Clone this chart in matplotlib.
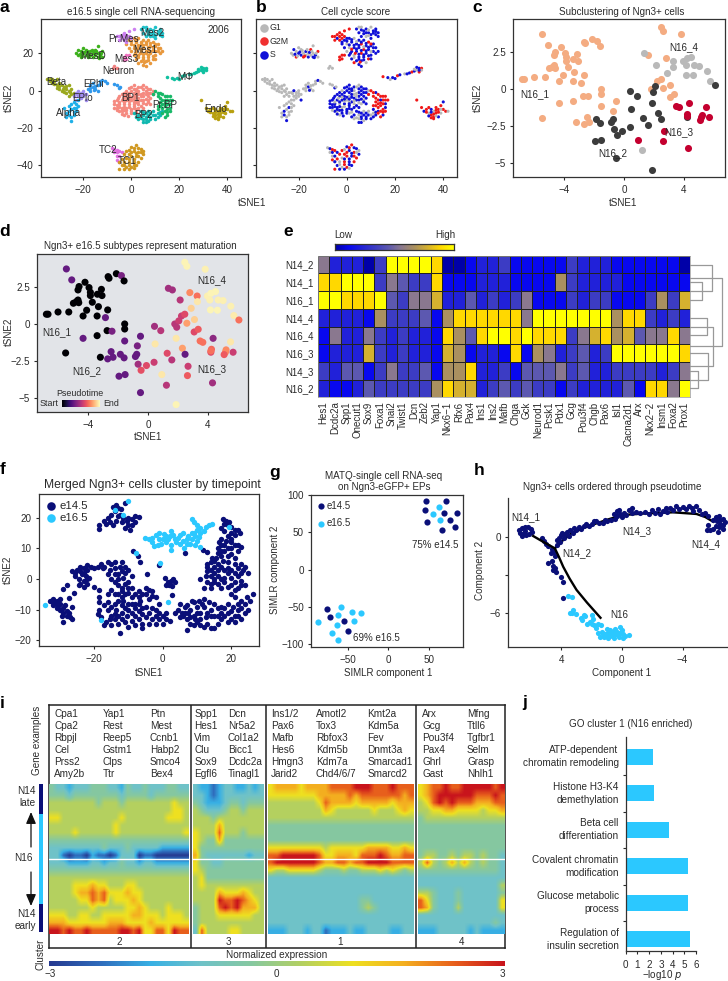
import numpy as np
import matplotlib
matplotlib.use('Agg')
import matplotlib.pyplot as plt
from itertools import cycle
from matplotlib.colors import LinearSegmentedColormap

plt.rcParams['font.family'] = ['Liberation Sans', 'DejaVu Sans']
plt.rcParams['font.size'] = 7.1
plt.rcParams['text.color'] = '#2a2a2a'
plt.rcParams['axes.linewidth'] = 0.9
plt.rcParams['axes.edgecolor'] = '#333333'
plt.rcParams['xtick.color'] = '#2a2a2a'
plt.rcParams['ytick.color'] = '#2a2a2a'
plt.rcParams['xtick.major.size'] = 2
plt.rcParams['ytick.major.size'] = 2
plt.rcParams['xtick.major.pad'] = 4
plt.rcParams['ytick.major.pad'] = 3

W, H = 728, 981

# ---- panel a / b cells, one list per cluster
mes_d = [(-23,20),(-22,22),(-22.3,19),(-21,18),(-21,21),(-20,20),(-20,23),(-19,19),(-19,22),(-18,18),(-18,20),(-17,21),(-17,19),(-16,18),(-16,20),(-15,22),(-15,19),(-14,18),(-14,20),(-13,19),(-12,18),(-12,21),(-14,24),
    (-21.5,19.5),(-20.5,18.5),(-19.5,20.7),(-18.5,21.5),(-17.5,18.5),(-16.5,22),(-15.5,20.5),(-14.5,21),(-13.5,17.7),(-12.7,20)]
mes_1 = [(-1,27),(1,28),(3,28),(5,27),(7,27),(9,26),(11,25),(12,23),(-2,25),(0,25),(2,26),(4,25),(6,25),(8,24),(10,24),(-1,23),(1,23),(3,23),(5,23),(7,22),(9,22),(11,21),(13,21),(0,21),(2,21),(4,21),(6,20),(8,20),(10,19),(1,19),(3,19),(5,18),(7,18),(9,17),(2,17),(4,16),(6,16),(8,15),(5,14),(6,13),(3,15),(10,17),
    (0,26.5),(2,27.3),(4,26.3),(6,26),(8,25.3),(10,25),(1,24.5),(3,24.3),(5,24.2),(7,23.5),(9,23.2),(11,23),(2,22.2),(4,22.3),(6,21.5),(8,21.3),(10,21),(12,20),(1.5,20),(3.5,20),(5,19.5),(7,19.2),(9,18.7),(3,17.8),(5,16.8),(7,16.5),(5.5,15.3)]
mes_2 = [(4,33),(5,31),(6,34),(7,32),(8,33),(9,31),(10,34),(11,32),(12,30),(13,29),(8,29),(10,28),(6,29),(12,33),(5,34),(13,31),
    (6,32.5),(7,30.5),(9,32.5),(10,30),(11,30.8),(12,31.7),(9,29.5),(8,31)]
pr_mes = [(-6,29),(-5,27),(-4,30),(-4,28),(-3,31),(-3,27),(-2,30),(-2,26),(-1,32),(-1,29),(1,33),(0,28),(-5,29),(-3,29),(-2,28)]
mes_3 = [(-3,18),(-2,19),(-2,17),(-1,19),(-3,16.5)]
neuron = [(-7,13),(-6,12),(-7.5,12)]
beta = [(-35,6),(-34,5),(-33,6),(-33,4),(-32,5),(-31,3),(-31,6),(-30,4),(-30,1),(-29,3),(-29,0),(-28,2),(-27,1),(-27,-1),(-26,3),(-26,0),(-25,-2),(-25,1),(-26,-3),(-24,-1),
    (-34,6.5),(-32,3.5),(-31,1.5),(-30,2.5),(-28.5,1),(-28,-.5),(-27,2.5),(-25.5,-.5)]
e_plo = [(-24,-3),(-23,-1),(-23,-5),(-22,-3),(-22,0),(-21,-1),(-21,-4),(-20,0),(-20,-3),(-19,-2),(-19,-5),(-22.5,-1.5),(-21,-2.5),(-20,-1.5)]
e_phi = [(-18,1),(-17,3),(-17,0),(-16,2),(-16,4),(-15,1),(-14,3),(-13,5),(-12,5.5),(-11,5),(-14,0),(-6,3),(-7,3.5),(-5,1.5),(-4.5,2),(-10,4),(-17,1.5),(-15,2.7),(-15.5,.2),(-13,3.7)]
alpha = [(-28,-9),(-27,-12),(-26,-8),(-26,-11),(-25,-14),(-25,-10),(-24,-6),(-24,-9),(-24,-13),(-23,-7),(-23,-11),(-25,-16),(-27,-14),(-22,-8),(-22,-5),(-26,-13),(-25,-7),(-24,-11.5),(-23,-9)]
bp_1 = [(1,3),(3,2),(5,3),(7,1),(-1,1.5),(1,1),(3,0),(5,1),(7,-1),(9,0),(-3,-1),(-1,-1),(1,-1),(3,-2),(5,-1),(7,-3),(9,-2),(-5,-3),(-3,-3),(-1,-3),(1,-3),(3,-4),(5,-3),(7,-5),(-6,-5),(-4,-5),(-2,-5),(0,-5),(2,-6),(4,-5),(6,-7),(8,-7),(-7,-7),(-5,-7),(-3,-7),(-1,-7),(1,-8),(3,-7),(5,-9),(-6,-9),(-4,-9),(-2,-9),(0,-10),(2,-10),(-4,-11),(-2,-12),(0,-12),(-5,-11),(-3,-13),(0,0),(2,-2),(4,-1.5),(-2,-2),(-4,-2),(6,-4.5),(-1,-5.5),(3,-9),(-3,-10.5),(1,-6),(-6,-7.5),
    (0,2),(2,1),(4,2),(6,2),(8,1),(-2,0),(2,0),(6,0),(8,-1),(-2,-3.5),(0,-3.5),(2,-3.5),(4,-3),(6,-2),(8,-4),(-5.5,-4),(-3.5,-4),(-1,-4.5),(1,-4.5),(3,-5.5),(5,-5),(7,-6),(-7,-5.5),(-5,-6),(-3,-6),(1,-7),(5,-6.5),(-7,-9),(-5,-8.5),(-3,-8.5),(-1,-8.5),(1,-9.5),(4,-8),(-6,-10.5),(-4,-10),(-2,-10.5),(0,-11),(2,-11.5),(-4,-12.5),(-1.5,-13.5)]
bp_2 = [(1,-12),(3,-13),(4,-11),(5,-13),(6,-15),(6,-17),(7,-11),(7,-13),(8,-15),(9,-11),(9,-13),(10,-15),(11,-12),(12,-13),(13,-11),(3,-15),(5,-17),
    (2,-14),(4,-14.5),(5,-11.5),(6,-12),(7,-16),(8,-12),(8,-14),(10,-13),(11,-14),(12,-11.5),(5,-15),(6,-14)]
pr_bp = [(9,-2),(10,0),(11,-3),(12,-1),(13,-5),(13,-2),(14,-3),(15,-5),(16,-7),(15,-10),(14,-8),(13,-9),(16,-11),(15,-13),(13,-12),(11,-8),(12,-6),(14,-14),(11,-10),(17,-5),(16,-3),
    (11,-1),(12,-4),(14,-5),(15,-3),(16,-5),(15,-7),(14,-11),(16,-9),(14,-6.5),(13,-7),(15,-11.5),(12,-8)]
m_phi = [(15,7.5),(17,7),(18,6),(19,7),(21,8),(22,8.5),(24,9),(26,9.5),(27,10),(28,10.5),(29,11),(30,12),(31,12),(29,12.5),(31,11),(20,6.5),(30,10),(25,9),(28,11.5),(30,11)]
endo = [(29,-5),(31,-9),(32,-11),(33,-10),(34,-12),(34,-9),(35,-13),(35,-10),(36,-14),(36,-11),(37,-9),(37,-12),(38,-14),(38,-10),(39,-12),(39,-8),(40,-10),(40,-6),(41,-11),(42,-11),(36,-15),
    (33,-11.5),(35,-11.5),(36,-12.5),(37,-13.5),(38,-11.5),(37,-10.5),(34,-13.5),(35,-14.5),(39,-10)]
tc_2 = [(-8,-30.5),(-7,-31),(-6,-31.5),(-7,-33),(-6,-33),(-5,-32),(-6,-35),(-5,-35),(-6,-37),(-5,-38),(-4,-33)]
tc_1 = [(-2,-32),(0,-30),(2,-29),(4,-31),(5,-32),(-1,-34),(1,-32),(3,-33),(5,-34),(-2,-36),(0,-35),(2,-35),(4,-36),(-5,-38),(-3,-38),(-1,-38),(1,-38),(3,-38),(-4,-40),(-2,-41),(0,-41),(2,-40),(-5,-42),(-3,-42),
    (-1,-31.5),(1,-30.5),(3,-30.5),(0,-33),(2,-33.5),(4,-33),(-3,-34),(1,-36.5),(3,-35),(-1,-36.5),(-3,-39.5),(-1,-39.5),(1,-39.5),(-4,-36.5),(-1,-42),(1,-41.5)]

clusters_a = [mes_d, mes_1, mes_2, pr_mes, mes_3, neuron, beta, e_plo, e_phi, alpha, bp_1, bp_2, pr_bp, m_phi, endo, tc_2, tc_1]
colors_a = ['#3CB01C','#E8983C','#1FC0C8','#CC80F0','#F070C0','#F08080','#9AA81E','#A08CF0','#3098EC','#1FB0E8','#F58A80','#10B8B0','#18B868','#10C0A0','#B8A010','#E070E0','#D09820']
names_a = ['MesD','Mes1','Mes2','Pr.Mes','Mes3','Neuron','Beta','EPlo','EPhi','Alpha','BP1','BP2','Pr.BP','M\u03a6','Endo','TC2','TC1']
name_x = [-16,6,8.75,-3,-2,-5.5,-31.4,-20.3,-15.5,-26.3,-0.3,5,14,22.5,35,-9.7,-1.7]
name_y = [18.7,22,30.7,27.7,17,10.5,4.5,-3.7,3.4,-12,-3.7,-13.2,-7.7,7.5,-9.8,-31.6,-37.7]
# cell cycle phase per cluster, read along the cluster list
phases_b = ['GSGRGS','SSGSSRS','SSGS','RRRS','RR','G','G','GGGGSG','GGGSG','GGGS','SSGSSSG','GSS','RRRSR','RSGS','RRSRG','GSR','RSRSG']
phase_colors = {'G': '#B8B8B8', 'R': '#F01818', 'S': '#1010D8'}

# ---- panel c / d
n16_1 = [(-6.82,.68),(-6.71,.68),(-6.04,.83),(-5.32,.83),(-5.48,3.74),(-5.12,3.0),(-4.23,2.84),(-4.63,2.55),(-4.7,2.32),(-3.96,2.48),(-3.87,2.16),(-3.87,1.94),(-3.13,2.36),(-3.4,2.03),(-3.09,1.94),(-2.68,3.22),(-2.62,3.11),(-2.13,3.42),(-1.79,3.29),(-1.61,2.93),(-5.01,1.42),(-4.81,1.53),(-4.65,1.46),(-4.7,1.64),(-3.74,1.49),(-3.33,1.19),(-4.12,.95),(-4.36,.56),(-3.42,.56),(-2.71,.97),(-2.86,.45),(-5.53,-1.94),(-4.36,-.95),(-3.42,-.77),(-2.75,-.43),(-2.42,-.47),(-1.57,.02),(-1.57,-.32),(-1.57,-1.13),(-.51,-.81),(-.72,-1.46),(-3.2,-2.23),(-2.71,-2.34),(-2.48,-1.85),(-2.35,-2.23),(2.46,4.19),(2.6,3.92),(3.83,3.72),(1.63,2.32),(2.8,2.14),(1.79,.02),(2.24,.56),(2.46,.68),(2.6,.07),(3.11,.32),(3.09,-.52),(3.36,-.34)]
n16_4 = [(1.36,2.43),(2.15,1.64),(2.89,1.08),(3.29,1.91),(3.31,1.53),(3.98,1.91),(4.21,2.09),(4.52,2.21),(4.14,1.64),(4.7,1.64),(5.03,1.6),(4.18,.97),(4.65,.95),(5.55,1.22),(5.75,.59),(1.23,-4.12)]
n16_2 = [(.43,-.14),(.85,-.43),(6.09,.29),(2.06,.23),(1.92,-.2),(1.88,-.95),(.47,-1.33),(2.3,-1.62),(2.48,-2.03),(1.28,-1.96),(1.59,-2.41),(.4,-2.57),(-.11,-2.79),(-.47,-3.11),(-.67,-2.7),(-.85,-2.18),(-.76,-2.03),(-1.86,-2.03),(-1.61,-2.27),(-1.95,-3.51),(-1.54,-3.4),(-.51,-4.62),(1.88,-5.43),(4.21,-1.89)]
n16_3 = [(4.36,-.95),(3.49,-1.13),(3.67,-1.22),(4.25,-1.69),(4.21,-1.8),(5.53,-1.19),(5.23,-1.73),(5.19,-1.89),(5.1,-2.05),(5.7,-1.89),(2.68,-2.84),(2.64,-3.47),(.92,-3.4),(4.32,-3.96)]
colors_c = ['#F4AC82', '#B9B9B9', '#3C3C3C', '#C4002F']

time_1 = [0,0,0,0,.3,.3,0,0,0,0,0,0,0,0,0,0,0,0,.35,0,0,0,0,0,0,0,0,0,0,0,.3,0,.3,0,0,.35,0,0,.3,.3,.35,0,.3,.3,.3,.98,.98,.97,.45,.75,.5,.55,.6,.8,.9,.6,.65]
time_4 = [.45,.5,.9,.7,.95,.97,.98,.98,.97,.97,.97,.98,.98,.97,.96,.5]
time_2 = [.45,.5,.7,.55,.5,.95,.95,.8,.3,.6,.5,.55,.6,.62,.45,.3,.3,.3,.3,.3,.3,.3,.98,.6]
time_3 = [.4,.7,.7,.68,.7,.95,.75,.75,.65,.55,.55,.65,.95,.45]

# ---- panel e
genes_e = ['Hes1','Dcdc2a','Spp1','Onecut1','Sox9','Foxa1','Snai2','Twist1','Dcn','Zeb2','Yap1','Nkx6\u22121','Rfx6','Pax4','Ins1','Ins2','Mafb','Chga','Gck','Neurod1','Pcsk1','Pdx1','Gcg','Pou3f4','Chgb','Pax6','Isl1','Cacna2d1','Arx','Nkx2\u22122','Insm1','Foxa2','Prox1']
rows_e = ['N14_2','N14_1','N16_1','N14_4','N16_4','N16_3','N14_3','N16_2']
heat_e = [
    [5,2,2,2,0,3,9,9,9,9,8,0,0,1,2,2,3,1,1,1,1,1,3,2,2,2,1,1,1,1,1,1,0],
    [8,8,9,9,9,3,5,4,3,3,8,1,1,1,2,2,2,1,1,1,1,6,3,2,2,2,2,1,1,1,1,1,1],
    [9,9,8,8,8,9,4,3,5,5,7,2,2,4,2,3,2,3,5,1,1,1,3,2,3,3,1,1,1,3,6,3,7],
    [2,2,2,2,1,6,3,3,3,4,1,6,8,8,8,8,8,8,5,9,9,9,9,9,9,9,6,8,8,3,2,3,2],
    [1,5,2,2,5,3,2,3,2,2,1,8,6,4,8,9,9,8,9,8,8,8,3,5,7,8,6,7,4,5,5,8,5],
    [1,2,2,2,7,3,2,3,2,2,1,7,6,1,2,2,1,8,1,6,5,2,3,4,2,3,9,9,9,9,9,9,8],
    [3,2,4,4,1,3,5,3,3,4,1,6,6,8,2,2,3,1,4,4,4,5,3,4,2,2,3,3,3,3,2,3,5],
    [2,1,1,2,4,3,3,3,3,3,6,8,7,7,2,3,4,3,4,3,3,1,3,2,2,2,2,4,1,8,8,5,9],
]
cmap_e = ['#0000A8','#0808F0','#2222D8','#3C3CC4','#5C58B0','#8A7890','#AA9060','#D4B030','#FFD800','#FFFF00']
# merges of the row dendrogram: (first row pos, second row pos, height)
dendro = [(1.5,2.5,11.7),(0.5,2.0,21.7),(6.5,7.5,8),(5.5,7.0,18),(3.5,4.5,16.7),(4.0,6.25,23),(1.25,5.1,32)]

# ---- panel f
f_e14 = [(-14.5,23.5),(-13.5,24),(-12.3,22.8),(-11,24.7),(-14,22),(-12.5,21),(-11.5,20),(-10.5,19),(-9,19.5),(-8,20.5),(-7,20.3),(-18.5,17.5),(-18.5,16.2),(-17,19),(-16,20),(-15.5,18.5),(-14.5,17.5),(-13.5,19),(-10,17.5),(-11,16.5),(-9.5,16),(-8,18.5),
    (-8.8,9),(-7.2,7.5),(-6.5,5.5),(-1,4.6),(-4.7,1.8),(0.8,0.2),(1.5,-1),(2.5,-0.5),(3.5,-1),(3,0),(1.8,-2),(2.7,-2.2),(1,-1.8),(2.6,-5.2),(6.5,8.4),(11.9,9.4),(13,8.7),
    (-33,-7),(-32,-6.5),(-31,-7),(-32,-8.5),(-31,-9.5),(-30,-8),(-30,-10),(-29,-9.5),(-29,-11),(-28,-12),(-28,-10.5),(-27,-12.5),(-26.5,-13),(-29,-14),(-27.5,-6.3),(-26.5,-9),(-30,-6.5),(-28,-2),(-29,-3.2),
    (-26.5,2.5),(-25,3),(-24,4),(-23,3.5),(-22,4.5),(-21,4),(-25.5,1),(-24.5,0),(-23.5,1.5),(-23,-0.5),(-22.5,1),(-24,-1.5),(-22,-1.5),(-21.5,0.5),(-20,-2.5),
    (-20,3.5),(-19,4),(-18,5),(-17,4),(-16,5.5),(-15,5),(-15.5,3),(-14,5.5),(-12,5.5),(-11,4),(-10,3),(-12,2.5),(-14,1.5),(-15,0),(-13,0),(-11.5,0.5),(-13,-2),(-11,-1.5),(-10,-3),(-15,-3.5),(-9,1),
    (-18.5,-3.5),(-18.5,-6),(-18.5,-7.5),(-18.7,-10),(-17,-8.5),(-16,-7.5),(-15,-9),(-14,-8),(-13,-7),(-12,-6),(-11,-5),(-10,-4.5),(-9,-6),(-8,-5),(-7,-4),(-6,-5),(-5,-3),(-4,-3.5),(-3,-4),(-3,-5.5),(-4,-6.5),(-6.5,-7),(-8,-8),(-10,-8),(-12,-8.5),(-13.5,-10),(-12,-11),(-10,-10),(-9,-11),(-7,-10.5),(-6,-9.5),(-5,-9),(-4,-11),(-2,-12),(-1,-11),(0,-12),(1,-13),(2,-13.5),(-3,-13),(-5,-12.5),(-7,-13),(-9,-13.5),(-11,-14),(-13,-14.5),(-15,-15),(-17,-15),(-16.5,-14),(-14,-13),(-12,-13),(-10,-15.5),(-8,-15),(-6,-14.5),(-4,-14.5),(-2,-14.5),(0,-14.5),(-19,-11.5),(-18,-12.5),(-12.4,-17.7),
    (3.5,-11),(4.5,-10),(5,-8),(5.5,-11),(6,-12),(6.5,-9),(7,-8.5),(7.5,-11),(8,-10),(8.5,-7),(9,-7.5),(9,-12),(9.5,-13),(10,-9),(10,-14),(10.5,-7),(11,-11),(11,-15),(12,-6.5),(12,-9),(12.5,-12.5),(13,-14.5),(14,-10),(14,-16),(15,-8),(15,-12),(16,-14.5),(7,-16.5),(17,-9),(17,-11),(18,-12),(19,-11),(19,-8),(20,-13),(20.5,-9),(21,-6),(22,-10),(23,-13),(23,-7),(24,-11),(24.5,-6),(25,-10),(25.5,-7),(26.5,-5),(22,-12),
    (17.5,19.5),(18.5,19),(19.5,18.5),(20,17),(19,17.5),(17,16.5),(18,15.5),(20,15),(22,16),(22.5,15),(21,14.5),(20,13),(17,13),(16.5,12),(18,11),(20,12),(19,10),(21,11),(22,11),(23,10.5),(16,10),(16,8.5),(18,9),(20,8),(21,7),(15.5,7),(15,6),(14,5.5),(13,5),(13,4),(13,2.5),(12.5,1),(14,3),(15,4),(16,5),(17.5,6),(19,5.5),(21,5),(23,5),(24,4),(25,2),(18,3),(19,2),(20,3),(21,2),(22,1),(23,2),(16,1),(17,0),(15,-1),(13,-1),(11,0),(12,-3),(14,-3),(18,-1),(20,-2),(21,-1),(23,-0.5),(20,-5),(22,-3),(17,-3)]
# second pass over the dense parts of the cloud
f_e14_dense = [(-13,23),(-15,21),(-10,20),(-13,20.5),(-16.5,18),(-12,18.5),(-9,17.5),
    (-32,-7.5),(-30.5,-8.8),(-29.5,-12),(-28.5,-8.5),(-27.5,-11),(-31,-8),(-26,-4.5),
    (-25.5,2),(-24,2.5),(-23,2),(-22,3),(-24.5,-2),(-22,0),(-23,-2.5),
    (-17.5,3.5),(-14,3.5),(-12.5,4),(-13,1.5),(-12,-3),(-14,-1),(-11,2),(-16,1.5),(-10,-1),
    (-16,-5),(-14,-5),(-12,-4),(-9,-3),(-7,-6),(-5,-5),(-2,-6),(-16,-10),(-15,-12),(-14,-11.5),(-11,-9.5),(-8,-9.5),(-10.5,-12),(-8,-12),(-6,-11.5),(-3,-9.5),(-2,-10),(-1,-13),(-6,-16),(-13,-12),(-15.5,-13),(-9,-8),(-7,-8),(-11.5,-7),(-13,-5),(-1,-8),(1,-11),
    (5,-12.5),(6.5,-11),(7,-13),(8,-12.5),(8,-14.5),(9,-15),(10,-11),(11,-13),(11.5,-8),(12,-15.5),(13,-11),(13.5,-7.5),(14,-12),(16,-9.5),(15,-16),(16,-12),(17,-13),(18,-9.5),(20,-10.5),(21,-12),(22,-8),(23,-9.5),(24,-8),(21,-14),(19,-14),
    (18,18),(21,16),(19,14),(18.5,12.5),(17,11),(20,10),(22,9),(17,9),(19,7.5),(17,7.5),(14.5,7),(15,2),(16,3),(17,4),(19,3.5),(22,3.5),(23.5,3),(14,1),(15,0),(18,.5),(20,.5),(19,-2.5),(16,-1.5),(14,-1.5),(21,-3.5),(24,-2),(23,-2)]
f_e16 = [(-5.2,13.5),(-4,13.2),(-3,12),(-2.5,10.8),(-1.5,11),(-2,14.5),(-1,15),(0,13),(0.5,14.8),(1,12),(2,14),(2.5,15.5),(2.5,11),(2.5,9.5),(3.5,13),(4,12),(5,14.5),(6,15),(6,12.5),(7,11.5),(6.3,10),(7.5,14),(8.5,13),(9,15),(9.5,11),(10,12.5),(10,16),(10,17.5),(9,18.5),(11,15),(12,15.5),(12.5,17),(13.5,17.5),(14.5,18),(8.5,19.5),(11,10.5),
    (-3,13.5),(-1,13),(-.5,11.5),(1,14),(1.5,13),(3,14.5),(4.5,13.5),(5,11.5),(7,13),(8,11.5),(8.5,15),(9.5,14),(10.5,13.8),(11,16.5),
    (-7.8,8.6),(-.7,5.1),(1.5,-7.6),(-34.3,-8.3),(-18,-13.4),(-10,25.5),(-14,22.5),(-11.5,21),(19.3,16.8)]

# ---- panel g
g_e14_x = [46.7,71.5,45.5,69.4,85,76,48.3,66,82.6,-76.4,-73,-55,-49.6]
g_e14_y = [91.5,92,79.4,75.3,76,67,63.7,53.4,57,-52,-63,-68.6,-81.6]
g_e16_x = [62.4,55.8,63.6,-59,-62.8,-45.5,-33.5,-86.8,-42.6,-64,-69.8,-62.8]
g_e16_y = [84.3,74,66.4,-49.3,-61,-57,-57.4,-69.5,-68.6,-74,-84.3,-94]

# ---- panel h
trunk_x = [5.85,5.2,4.42,4.15,3.87,3.45,2.99,2.3,1.41]
trunk_y = [.05,-.4,-.92,-1.6,-2.37,-3.3,-4.2,-5.2,-6.4]
branch_x = [4.42,3.9,3.32,2.5,1.67,.8,-.09,-1.63,-3.38,-4.92,-5.5,-6.02]
branch_y = [-.92,-.3,.26,.7,1.05,1.4,1.71,1.84,1.92,1.79,1.55,1.18]
h_e14 = [(6.8,.5),(6.6,.7),(6.4,.8),(6.2,.75),(6,.6),(6.7,.3),(6.5,.2),(6.3,.1),(6.1,.2),(5.95,.35),(6.4,.45),(6.6,.05),
    (5.3,-.13),(5.15,-.35),(5,-.6),(4.85,-.75),(4.6,-1),(4.65,-1.3),(4.5,-1.2),(4.4,-1.5),(4.6,-1.9),(4.9,-2.05),(4.55,-2.3),(4.4,-2.5),(4.35,-2.8),(4.55,-2.6),(4,-3.2),(3.9,-3.6),(3.85,-4.85),
    (4.3,-.65),(4.25,-.3),(4.15,-.1),(4.05,-.4),(4,.1),(3.95,.3),(3.8,-.1),(3.75,.2),(3.6,.4),(3.5,.05),(3.4,.5),(3.25,.3),(3.15,.65),(3,.5),(2.85,.8),(2.7,.6),(2.5,.85),(2.35,1),(2.2,.85),(2,1),(1.85,1.2),(1.7,1.25),(1.5,1.05),(1.25,1.1),(1.1,1.3),(.95,1.2),(.7,1.35),(.5,1.75),(.45,1.4),(.35,2),(.3,1.6),(.2,2.1),(.1,1.75),(0,1.55),(-.15,1.9),(-.3,1.7),(-.5,2.1),(-.65,2.3),(-.7,1.9),(-.9,1.95),(-1.2,1.85),(-1.5,1.95),(-1.8,1.8),(-2,2.1),(-2.2,1.85),(-2.4,2.2),(-2.5,1.75),(-2.7,2.05),(-2.9,2.25),(-3,1.95),(-3.2,2.3),(-3.4,2.1),(-3.6,2.4),(-3.8,2.15),(-4,2.35),(-4.2,2.2),(-4.4,2.4),(-4.6,2.25),(-4.7,2),(-4.9,2.4),(-5.1,2.1),(-5.3,1.75),(-5.5,1.85),(-5.7,1.6),(-6,1.35),(-6.2,1.55),(-6.3,1.2),(-6.4,1.65),(-6.5,1.3),(-6.5,1),(-6.7,1.4),(-6.7,.9),(-6.2,.85),(-6,.6),(-5.8,.55),(-5.6,.55),(-6.4,.75),(-6.65,.6),(-6.35,.4),(-6.8,1.15),(-5.7,.9)]
h_e16 = [(3.55,-4.7),(3.3,-4.75),(3.4,-6),(3.3,-6.05),(3.2,-5.8),(3,-6.1),(2.7,-6.4),(2.6,-6.6),(2.5,-6.2),(2.4,-6.25),(2.3,-6.9),(2.1,-6.7),(2,-6.85),(1.9,-6.5),(2,-6.2),(1.85,-7),(1.7,-7.2),(1.6,-6.9),(1.4,-7),
    (1.55,-7.6),(1.45,-7.9),(1.3,-7.5),(1.2,-7.95),(1.1,-7.7),(1,-7.3),(.9,-7.6),(.9,-8),(.75,-7.35),(.7,-7.75),(.6,-7.5),(.55,-8),(.45,-7.3),(.4,-7.7),(.3,-7.5),(.2,-7.9),(.15,-7.1),(.1,-7.6),(0,-7.4),(-.05,-8),(-.1,-7.7),(-.2,-7.85),(-.5,-7.75),(1.25,-7.7),(.8,-7.8),(.25,-7.7),(.55,-7.7),(1,-7.65)]

# ---- panel i, expression on a 0..9 scale (0 = -3, 9 = +3)
heat_2 = ["433233344433243343334433","444344444444344443444444","555555554555455555555655","555555555555555555555665","665555555555655555556665","555555555556555555555555","555565555556555555555556","444444444444444444444444","333333333433343333322222","331011021101333011000000","333222233233433233222222","444444444444444444444444","555555555555555555555555","555566676655566555555555","555567787866676655555555","555556687856667655555555","555555565555566765556555","666556655666667766656665","777666666677766667666666","998988988888998966886988"]
heat_3 = ["322123322323","332123333333","432223443444","543334554555","555455555555","555575555555","655585554555","654474444444","644444444444","743333333233","644334444444","654444444444","564444444444","565555555555","555576667655","555598898765","455589897775","455566666655","455555555555","385555665555"]
heat_1 = ["677776777788889998889888","666666667777787888888878","555555556877776777776777","555555555765555556555676","555555555555555555555555","444444444444444444444444","444444444444444444444444","444444444444444444444444","666666666566666677776676","889999998667776888987788","899999998778878899998888","655666665444544555656545","333333333333333333333333","333333333333333333333333","333333333333333333333333","333333333333333443333333","333333333333333454333333","333333333333333333333333","333333333333333333333333","222333233122232233332233"]
heat_4 = ["67889889999989","67899999988898","56898988877788","55667766665667","45555555555555","44444444444444","44444444444444","44444444444444","44444444444444","45544545545443","58545757545443","44444444444443","33333333333333","33333333333335","55433343333334","86433343333336","87433353333336","33333333333333","33333333333343","22233333232222"]
cmap_i = ['#263A90','#2F6CBC','#38B0E4','#6FC2C8','#86C8A0','#B4D060','#EEE020','#F4B020','#E8601C','#C8141C']
genes_2 = [['Cpa1','Cpa2','Rbpjl','Cel','Prss2','Amy2b'],['Yap1','Rest','Reep5','Gstm1','Clps','Ttr'],['Ptn','Mest','Ccnb1','Habp2','Smco4','Bex4']]
genes_3 = [['Spp1','Hes1','Vim','Clu','Sox9','Egfl6'],['Dcn','Nr5a2','Col1a2','Bicc1','Dcdc2a','Tinagl1']]
genes_1 = [['Ins1/2','Pax6','Mafb','Hes6','Hmgn3','Jarid2'],['Amotl2','Tox3','Rbfox3','Kdm5b','Kdm7a','Chd4/6/7'],['Kmt2a','Kdm5a','Fev','Dnmt3a','Smarcad1','Smarcd2']]
genes_4 = [['Arx','Gcg','Pou3f4','Pax4','Ghrl','Gast'],['Mfng','Ttll6','Tgfbr1','Selm','Grasp','Nhlh1']]
side_lengths = [30, 90, 28]

# ---- panel j
go_terms = ['ATP-dependent\nchromatin remodeling','Histone H3-K4\ndemethylation','Beta cell\ndifferentiation','Covalent chromatin\nmodification','Glucose metabolic\nprocess','Regulation of\ninsulin secretion']
go_values = [2.3, 2.4, 3.7, 5.3, 5.35, 5.45]

SKY = '#2BC8FF'
NAVY = '#0A0F78'

fig = plt.figure(figsize=(W / 100, H / 100), dpi=100)


def px_axes(l, t, r, b):
    return fig.add_axes([l / W, 1 - b / H, (r - l) / W, (b - t) / H])


def label(x, y, s, **kw):
    kw.setdefault('ha', 'center')
    kw.setdefault('va', 'center')
    fig.text(x / W, 1 - y / H, s, **kw)


def dots(ax, pts, color, size, **kw):
    ax.scatter([p[0] for p in pts], [p[1] for p in pts], s=size, c=color, linewidths=0, **kw)


for s, x, y in [('a',4,8),('b',261,8),('c',477,8),('d',5,231),('e',288,231),('f',3,470),('g',275,472),('h',479,471),('i',2,703),('j',525,703)]:
    label(x, y, s, fontsize=12.5, fontweight='bold', color='black')

# a
ax = px_axes(40.7, 19.3, 241, 176.7)
for pts, col in zip(clusters_a, colors_a):
    dots(ax, pts, col, 6.5)
for n, x, y in zip(names_a, name_x, name_y):
    ax.text(x, y, n, ha='center', va='center', fontsize=7.1)
ax.text(36.5, 32.3, '2006', ha='center', va='center')
ax.set_xlim(-37.7, 45.7)
ax.set_ylim(-46, 38.2)
ax.set_xticks([-20, 0, 20, 40])
ax.set_yticks([-40, -20, 0, 20])
label(141, 11.7, 'e16.5 single cell RNA-sequencing')
label(9, 98, 'tSNE2', rotation=90)

# b
ax = px_axes(256, 19.3, 457, 176.7)
for pts, phase in zip(clusters_a, phases_b):
    cols = [phase_colors[p] for p, _ in zip(cycle(phase), pts)]
    dots(ax, pts, cols, 5)
for lab, col, key in [('G1', '#B8B8B8', 'G'), ('G2M', '#F03030', 'R'), ('S', '#1010D8', 'S')]:
    ax.scatter([], [], s=38, c=col, linewidths=0, label=lab)
ax.legend(loc='upper left', frameon=False, fontsize=6.3, borderaxespad=0.1, handletextpad=0.2, handlelength=1, labelspacing=0.55, borderpad=0.3)
ax.set_xlim(-37.7, 45.7)
ax.set_ylim(-46, 38.2)
ax.set_xticks([-20, 0, 20, 40])
ax.set_yticks([-40, -20, 0, 20])
ax.set_yticklabels([])
label(356, 11.7, 'Cell cycle score')
label(251.7, 203, 'tSNE1')

# c
ax = px_axes(513, 19, 725, 177)
for pts, col in zip([n16_1, n16_4, n16_2, n16_3], colors_c):
    dots(ax, pts, col, 26)
for s, x, y in [('N16_1',-6,-.34),('N16_4',4.03,2.88),('N16_3',3.69,-2.9),('N16_2',-.78,-4.3)]:
    ax.text(x, y, s, ha='center', va='center')
ax.set_xlim(-7.45, 6.78)
ax.set_ylim(-5.93, 4.75)
ax.set_xticks([-4, 0, 4])
ax.set_yticks([-5, -2.5, 0, 2.5])
ax.set_yticklabels(['\u22125', '\u22122.5', '0', '2.5'])
label(621.7, 11.7, 'Subclustering of Ngn3+ cells')
label(623, 203, 'tSNE1')
label(478, 98, 'tSNE2', rotation=90)

# d
ax = px_axes(37, 254, 248, 412)
ax.set_facecolor('#E2E4E8')
for pts, t in zip([n16_1, n16_4, n16_2, n16_3], [time_1, time_4, time_2, time_3]):
    ax.scatter([p[0] for p in pts], [p[1] for p in pts], s=26, c=t, cmap='magma', vmin=0, vmax=1, linewidths=0)
for s, x, y in [('N16_4',4.27,3.0),('N16_1',-6.1,-.5),('N16_2',-4.1,-3.2),('N16_3',4.27,-3.05)]:
    ax.text(x, y, s, ha='center', va='center')
ax.set_xlim(-7.45, 6.7)
ax.set_ylim(-5.93, 4.75)
ax.set_xticks([-4, 0, 4])
ax.set_yticks([-5, -2.5, 0, 2.5])
ax.set_yticklabels(['\u22125', '\u22122.5', '0', '2.5'])
label(140, 245.7, 'Ngn3+ e16.5 subtypes represent maturation')
label(148, 437, 'tSNE1')
label(9, 332, 'tSNE2', rotation=90)
cax = px_axes(62, 400, 99.7, 406.7)
cax.imshow(np.linspace(0, 1, 128)[None, :], aspect='auto', cmap='magma')
cax.axis('off')
label(80, 393, 'Pseudotime', fontsize=6.4)
label(49, 403.5, 'Start', fontsize=6.4)
label(110.7, 403.5, 'End', fontsize=6.4)

# e
cm_e = LinearSegmentedColormap.from_list('e', cmap_e)
ax = px_axes(318, 255.7, 690, 397.3)
ax.pcolormesh(np.array(heat_e)[::-1], cmap=cm_e, vmin=0, vmax=9, edgecolors='#222222', linewidth=0.4)
ax.set_xticks(np.arange(len(genes_e)) + 0.5)
ax.set_xticklabels(genes_e, rotation=90, fontsize=7)
ax.set_yticks(np.arange(len(rows_e)) + 0.5)
ax.set_yticklabels(rows_e[::-1], fontsize=7)
ax.tick_params(length=0, pad=3)
for sp in ax.spines.values():
    sp.set_color('#999999')
    sp.set_linewidth(0.5)
cax = px_axes(335, 244, 454, 250)
cax.imshow(np.linspace(0, 9, 128)[None, :], aspect='auto', cmap=cm_e)
cax.set_xticks([])
cax.set_yticks([])
label(343, 235, 'Low')
label(445, 235, 'High')

# dendrogram of e
ax = px_axes(690, 255.7, 727, 397.3)
for a, b, h in dendro:
    ax.plot([0, h, h, 0], [a, a, b, b], color='#999999', lw=0.9)
ax.set_xlim(0, 37)
ax.set_ylim(8, 0)
ax.axis('off')

# f
ax = px_axes(38.7, 494.3, 259.3, 645.7)
dots(ax, f_e14, NAVY, 15)
dots(ax, f_e14_dense, NAVY, 15)
dots(ax, f_e16, SKY, 15)
ax.scatter([], [], s=38, c=NAVY, linewidths=0, label='e14.5')
ax.scatter([], [], s=38, c=SKY, linewidths=0, label='e16.5')
ax.legend(loc='upper left', frameon=False, fontsize=8.2, borderaxespad=0, handletextpad=0.25, handlelength=1, labelspacing=0.25, borderpad=0.55)
ax.set_xlim(-36.2, 28.2)
ax.set_ylim(-21.7, 27.6)
ax.set_xticks([-20, 0, 20])
ax.set_yticks([-20, -10, 0, 10, 20])
ax.set_yticklabels(['\u221220', '\u221210', '0', '10', '20'])
label(152, 485, 'Merged Ngn3+ cells cluster by timepoint', fontsize=8.7)
label(149, 672.7, 'tSNE1')
label(8, 570, 'tSNE2', rotation=90)

# g
ax = px_axes(311, 495, 463.3, 646.7)
ax.scatter(g_e14_x, g_e14_y, s=20, c=NAVY, linewidths=0, label='e14.5')
ax.scatter(g_e16_x, g_e16_y, s=20, c=SKY, linewidths=0, label='e16.5')
ax.legend(loc='upper left', frameon=False, fontsize=7, borderaxespad=0, handletextpad=0.15, handlelength=0.9, labelspacing=0.75, borderpad=0.6)
ax.text(57.6, 32.7, '75% e14.5', ha='center', va='center', fontsize=7)
ax.text(-15, -91, '69% e16.5', ha='center', va='center', fontsize=7)
ax.set_xlim(-96, 93)
ax.set_ylim(-103, 100)
ax.set_xticks([-50, 0, 50])
ax.set_yticks([-100, -50, 0, 50, 100])
label(384, 475.7, 'MATQ-single cell RNA-seq')
label(384, 487.3, 'on Ngn3-eGFP+ EPs')
label(388, 672.7, 'SIMLR component 1', fontsize=7)
label(275, 570, 'SIMLR component 2', rotation=90, fontsize=7)

# h
ax = px_axes(507.7, 498, 728, 646.7)
dots(ax, h_e14, NAVY, 14, zorder=2)
dots(ax, h_e16, SKY, 14, zorder=2)
ax.plot(trunk_x, trunk_y, color='black', lw=1.7, zorder=3)
ax.plot(branch_x, branch_y, color='black', lw=1.7, zorder=1.5)
for s, x, y in [('N14_1',6.35,1.55),('N14_2',3.0,-1.3),('N14_3',-1.0,.4),('N14_4',-5.55,-.6),('N16',0.2,-6.2)]:
    ax.text(x, y, s, ha='center', va='center')
ax.set_xlim(7.53, -7.0)
ax.set_ylim(-8.68, 3.05)
ax.set_xticks([4, 0, -4])
ax.set_xticklabels(['4', '0', '\u22124'])
ax.set_yticks([-6, -3, 0])
ax.set_yticklabels(['\u22126', '', '0'])
ax.spines['top'].set_visible(False)
ax.spines['right'].set_visible(False)
label(612.7, 487.3, 'Ngn3+ cells ordered through pseudotime')
label(621.7, 673, 'Component 1')
label(480, 570, 'Component 2', rotation=90)

# i, frame with dividers
ax = px_axes(49, 705.3, 505, 948)
ax.set_xlim(49, 505)
ax.set_ylim(948, 705.3)
ax.set_xticks([])
ax.set_yticks([])
ax.patch.set_alpha(0)
for x in [191.3, 265.7, 416]:
    ax.axvline(x, color='#222222', lw=1.1)
for sp in ax.spines.values():
    sp.set_linewidth(1.1)
    sp.set_color('#222222')

cm_i = LinearSegmentedColormap.from_list('i', cmap_i)
sections = [(heat_2, 49.5, 189.5, '2', genes_2, [54.3, 102.3, 150]),
            (heat_3, 192.5, 263.5, '3', genes_3, [194.3, 227.7]),
            (heat_1, 267.5, 413.5, '1', genes_1, [270.7, 315.7, 367.3]),
            (heat_4, 418.5, 504.5, '4', genes_4, [422.3, 467])]
for rows, l, r, num, genes, xs in sections:
    hax = px_axes(l, 784, r, 934)
    hax.imshow([[int(c) for c in row] for row in rows], aspect='auto', cmap=cm_i, vmin=0, vmax=9, interpolation='bilinear')
    hax.axhline(9.45, color='white', lw=1)
    hax.axis('off')
    label((l + r) / 2, 942, num)
    for x, col in zip(xs, genes):
        for k, g in enumerate(col):
            label(x, 713.7 + 12 * k, g, ha='left', fontsize=7.2)

cax = px_axes(49, 961, 505, 966)
cax.imshow(np.linspace(0, 9, 256)[None, :], aspect='auto', cmap=cm_i)
cax.axis('off')
label(277, 955.5, 'Normalized expression', fontsize=7.2)
label(50, 974, '\u22123')
label(276, 974, '0')
label(502, 974, '3')

sax = px_axes(39.3, 784, 42.7, 932)
sax.bar(0, side_lengths, bottom=[0, 30, 120], width=1, color=[NAVY, SKY, NAVY])
sax.set_ylim(148, 0)
sax.set_xlim(-0.5, 0.5)
sax.axis('off')
label(26, 790.5, 'N14', fontsize=7.2)
label(27, 802.5, 'late', fontsize=7.2)
label(23, 858, 'N16', fontsize=7.2)
label(26, 914, 'N14', fontsize=7.2)
label(25, 926, 'early', fontsize=7.2)
label(37, 740, 'Gene examples', rotation=90)
label(40, 954, 'Cluster', rotation=90)
arrow_style = '-|>,head_width=0.3,head_length=0.7'
fig.add_artist(plt.Annotation('', xy=(31 / W, 1 - 812 / H), xytext=(31 / W, 1 - 847 / H), xycoords='figure fraction', textcoords='figure fraction',
                              arrowprops=dict(arrowstyle=arrow_style, color='#111111', lw=0.9, shrinkA=0, shrinkB=0, mutation_scale=10)))
fig.add_artist(plt.Annotation('', xy=(31 / W, 1 - 906 / H), xytext=(31 / W, 1 - 872 / H), xycoords='figure fraction', textcoords='figure fraction',
                              arrowprops=dict(arrowstyle=arrow_style, color='#111111', lw=0.9, shrinkA=0, shrinkB=0, mutation_scale=10)))

# j
ax = px_axes(625.7, 736.7, 696, 951.3)
pos = np.arange(len(go_values))
ax.barh(pos, go_values, height=0.44, color=SKY)
ax.set_xlim(0, 6)
ax.set_ylim(5.33, -0.55)
ax.set_xticks(range(7))
ax.set_yticks(pos[:-1] + 0.5)
ax.set_yticklabels([])
for p, term in zip(pos, go_terms):
    ax.text(-0.6, p, term, ha='right', va='center', linespacing=1.35, fontsize=7.2)
ax.spines['top'].set_visible(False)
ax.spines['right'].set_visible(False)
label(631, 724, 'GO cluster 1 (N16 enriched)')
label(662, 975.5, '\u2212log10 $\\mathit{p}$')

fig.savefig('out.png', dpi=100)
